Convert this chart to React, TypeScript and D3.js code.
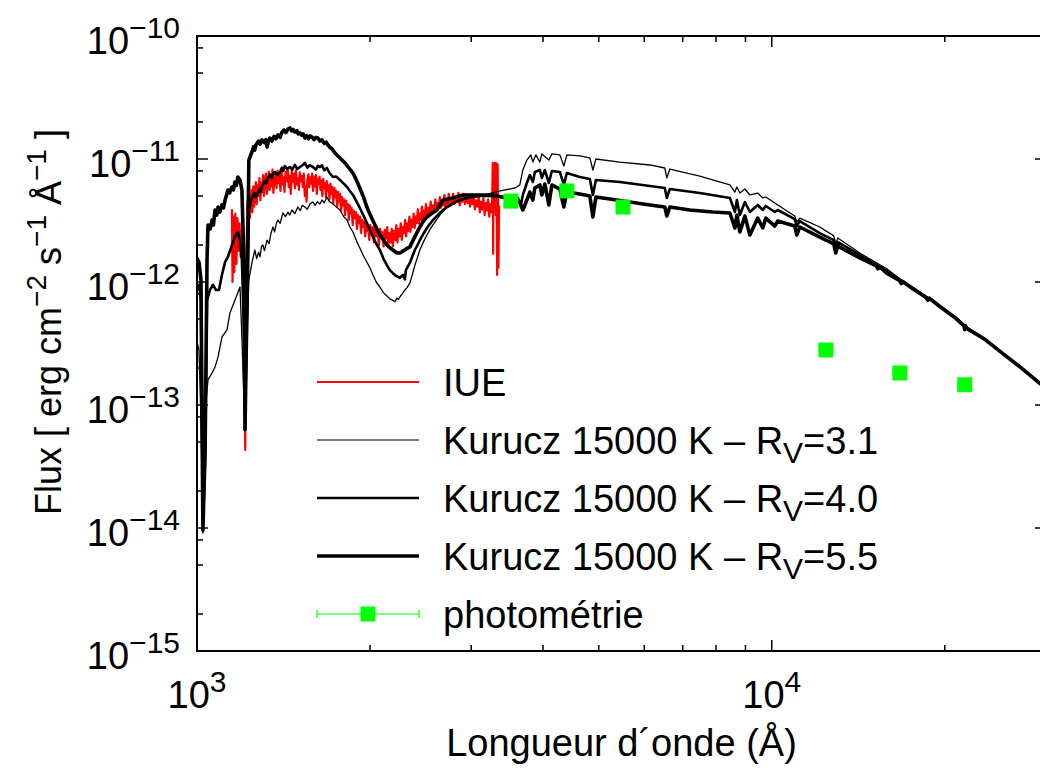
import React from "react";
import * as d3 from "d3";

// Flux values are in units of 1e-12 erg cm^-2 s^-1 Å^-1
const UNIT = 1e-12;

const iue: [number, number][] = [
  [1150, 3.9], [1153, 1.0], [1157, 3.4], [1161, 1.2], [1166, 3.6], [1171, 1.4], [1176, 3.3], [1181, 1.8],
  [1186, 3.0], [1191, 1.6], [1196, 2.6], [1201, 1.7], [1206, 1.2], [1210, 0.2], [1213, 0.043], [1216, 0.3],
  [1220, 1.8], [1224, 4.6], [1228, 3.1], [1232, 5.0], [1236, 3.3], [1240, 4.4], [1244, 5.6], [1248, 3.7],
  [1253, 6.0], [1257, 4.1], [1262, 5.2], [1266, 6.5], [1270, 4.3], [1275, 6.1], [1280, 5.0], [1284, 7.0],
  [1289, 4.6], [1294, 6.4], [1298, 5.4], [1303, 7.4], [1308, 5.0], [1313, 6.8], [1318, 7.6], [1323, 5.2],
  [1328, 6.3], [1333, 7.9], [1338, 5.6], [1343, 7.2], [1348, 6.0], [1353, 8.2], [1358, 5.3], [1364, 7.0],
  [1370, 7.8], [1375, 5.8], [1381, 8.0], [1386, 6.4], [1392, 7.5], [1397, 5.5], [1403, 8.3], [1408, 6.2],
  [1414, 7.1], [1420, 5.4], [1426, 7.9], [1432, 6.6], [1438, 8.4], [1444, 5.9], [1450, 7.3], [1456, 5.2],
  [1462, 8.0], [1468, 6.5], [1474, 7.6], [1480, 5.8], [1486, 8.1], [1492, 6.2], [1498, 7.0], [1504, 5.6],
  [1510, 7.8], [1516, 6.6], [1522, 7.3], [1528, 5.9], [1534, 7.6], [1540, 5.0], [1546, 6.0], [1551, 4.5],
  [1556, 6.8], [1562, 7.5], [1568, 5.9], [1574, 7.1], [1580, 6.3], [1586, 7.6], [1592, 5.5], [1598, 7.2],
  [1604, 6.0], [1610, 7.4], [1616, 5.2], [1622, 6.9], [1628, 6.2], [1634, 7.2], [1640, 5.6], [1646, 6.7],
  [1652, 5.0], [1658, 6.9], [1664, 5.8], [1670, 6.4], [1676, 4.9], [1682, 6.6], [1688, 5.5], [1694, 6.1],
  [1700, 4.7], [1707, 6.3], [1714, 5.2], [1720, 5.9], [1727, 4.4], [1734, 5.8], [1740, 4.9], [1747, 5.5],
  [1754, 4.1], [1760, 5.4], [1767, 4.5], [1774, 5.2], [1781, 3.8], [1788, 4.9], [1795, 4.2], [1802, 4.7],
  [1809, 3.5], [1816, 4.6], [1823, 3.9], [1830, 4.3], [1837, 3.2], [1844, 4.2], [1851, 3.6], [1858, 4.0],
  [1866, 2.9], [1874, 3.8], [1882, 3.3], [1890, 3.7], [1898, 2.7], [1906, 3.5], [1914, 3.0], [1922, 3.4],
  [1930, 2.5], [1938, 3.2], [1946, 2.8], [1954, 3.1], [1962, 2.35], [1970, 3.0], [1978, 2.6], [1986, 2.9],
  [1994, 2.2], [2002, 2.9], [2012, 2.45], [2022, 2.8], [2032, 2.1], [2042, 2.75], [2052, 2.35], [2062, 2.6],
  [2072, 2.0], [2082, 2.7], [2092, 2.3], [2102, 2.55], [2112, 1.95], [2122, 2.65], [2132, 2.25], [2142, 2.8],
  [2152, 2.0], [2162, 2.5], [2172, 2.1], [2182, 2.7], [2192, 1.95], [2202, 2.6], [2212, 2.2], [2222, 2.9],
  [2232, 2.1], [2242, 2.7], [2252, 2.35], [2262, 3.0], [2272, 2.2], [2282, 2.8], [2292, 2.5], [2302, 3.2],
  [2312, 2.35], [2322, 3.0], [2332, 2.6], [2342, 3.4], [2352, 2.55], [2362, 3.2], [2372, 2.8], [2382, 3.6],
  [2392, 2.75], [2402, 3.4], [2412, 3.0], [2422, 3.9], [2432, 3.0], [2442, 3.6], [2452, 3.2], [2462, 4.1],
  [2472, 3.2], [2482, 3.8], [2492, 3.4], [2502, 4.3], [2514, 3.5], [2526, 4.0], [2538, 3.6], [2550, 4.5],
  [2562, 3.7], [2574, 4.2], [2586, 3.8], [2598, 4.7], [2610, 3.9], [2622, 4.4], [2634, 4.0], [2646, 4.9],
  [2658, 4.0], [2670, 4.6], [2682, 4.2], [2694, 5.1], [2706, 4.1], [2718, 4.7], [2730, 4.3], [2742, 5.2],
  [2754, 4.2], [2766, 4.8], [2778, 4.4], [2790, 5.2], [2805, 4.3], [2820, 4.9], [2835, 4.5], [2850, 5.3],
  [2865, 4.2], [2880, 4.8], [2895, 4.5], [2910, 5.2], [2925, 4.3], [2940, 4.9], [2955, 4.4], [2970, 5.1],
  [2985, 4.1], [3000, 4.7], [3015, 4.3], [3030, 5.0], [3045, 3.9], [3060, 4.6], [3075, 4.1], [3090, 4.9],
  [3105, 3.7], [3120, 4.5], [3135, 3.9], [3150, 4.8], [3165, 3.5], [3180, 4.4], [3195, 3.8], [3210, 4.7],
  [3225, 3.4], [3240, 4.3], [3252, 3.7], [3262, 4.5], [3270, 9.3], [3275, 1.7], [3282, 8.9], [3290, 4.0],
  [3300, 9.3], [3310, 3.5], [3320, 9.2], [3328, 1.14], [3335, 9.0], [3345, 1.3], [3355, 4.2],
];

const kurucz31: [number, number][] = [
  [1000, 0.325], [1008, 0.28], [1016, 0.0755], [1024, 0.0091], [1033, 0.0246], [1037, 0.11], [1045, 0.16],
  [1062, 0.182], [1075, 0.204], [1088, 0.246], [1105, 0.357], [1128, 0.41], [1141, 0.56], [1164, 0.71],
  [1188, 0.91], [1197, 0.357], [1207, 0.11], [1212, 0.11], [1222, 0.41], [1231, 1.04], [1246, 1.43],
  [1261, 1.82], [1270, 1.55], [1280, 1.75], [1287, 1.6], [1295, 1.95], [1302, 2.0], [1310, 1.8],
  [1324, 2.19], [1335, 2.05], [1345, 2.5], [1356, 2.8], [1365, 2.55], [1374, 3.0], [1383, 3.19],
  [1395, 3.0], [1411, 3.64], [1425, 3.4], [1440, 3.7], [1450, 3.5], [1463, 3.85], [1480, 3.6],
  [1498, 4.07], [1512, 3.8], [1525, 4.2], [1541, 4.07], [1556, 3.9], [1572, 4.3], [1591, 4.47],
  [1605, 4.2], [1620, 4.5], [1635, 4.3], [1650, 4.64], [1665, 4.4], [1683, 4.91], [1700, 4.5],
  [1717, 4.39], [1745, 4.1], [1773, 3.85], [1800, 3.4], [1824, 3.19], [1845, 2.8], [1868, 2.55],
  [1895, 2.15], [1920, 1.89], [1950, 1.62], [1975, 1.45], [2000, 1.3], [2024, 1.14], [2050, 1.0],
  [2081, 0.91], [2110, 0.82], [2140, 0.77], [2165, 0.73], [2192, 0.71], [2210, 0.69], [2227, 0.74],
  [2240, 0.72], [2254, 0.755], [2275, 0.8], [2300, 0.86], [2320, 0.9], [2346, 0.98], [2370, 1.15],
  [2394, 1.37], [2420, 1.6], [2442, 1.82], [2475, 2.1], [2512, 2.41], [2540, 2.65], [2573, 2.91],
  [2610, 3.2], [2646, 3.5], [2680, 3.75], [2721, 4.0], [2809, 4.39], [2924, 4.73], [3044, 4.91],
  [3168, 5.1], [3297, 5.39], [3433, 5.6], [3573, 5.81], [3645, 6.15], [3689, 8.14], [3749, 9.81],
  [3809, 10.8], [3840, 9.45], [3886, 10.8], [3949, 9.45], [3981, 11.0], [4094, 9.81], [4144, 11.0],
  [4279, 10.8], [4348, 8.77], [4400, 10.8], [4635, 10.6], [4825, 10.2], [4884, 8.14], [4943, 10.0],
  [5442, 9.45], [6138, 8.94], [6515, 8.45], [6568, 7.01], [6647, 8.29], [7495, 7.27], [8456, 6.15],
  [8627, 5.39], [8696, 5.92], [8801, 5.29], [8979, 5.7], [9160, 5.1], [9454, 5.29], [9646, 4.82],
  [9763, 4.91], [10121, 4.39], [10243, 4.23], [10965, 3.44], [11053, 3.07], [11187, 3.31], [12119, 2.8],
  [12819, 2.37], [12922, 2.04], [13026, 2.28], [14224, 1.72], [15849, 1.28], [16697, 1.06],
  [17593, 0.91], [18527, 0.77], [19600, 0.645], [20813, 0.525], [21834, 0.43], [23470, 0.347],
  [25630, 0.25], [26999, 0.207], [29257, 0.152], [30000, 0.139],
];

const kurucz40: [number, number][] = [
  [1000, 0.86], [1008, 0.95], [1016, 0.71], [1024, 0.0116], [1033, 0.0357], [1041, 0.71], [1053, 0.86],
  [1066, 0.95], [1079, 0.86], [1092, 0.86], [1105, 1.14], [1119, 1.45], [1132, 1.6], [1150, 2.0],
  [1164, 2.32], [1178, 2.55], [1188, 2.19], [1197, 1.51], [1207, 0.41], [1212, 0.0755], [1222, 0.49],
  [1231, 3.85], [1246, 4.82], [1258, 5.3], [1265, 4.9], [1272, 5.1], [1285, 5.7], [1290, 5.4],
  [1297, 5.92], [1310, 6.6], [1318, 6.3], [1329, 7.01], [1340, 7.5], [1350, 7.0], [1358, 7.7],
  [1367, 7.84], [1380, 7.4], [1394, 7.84], [1405, 8.5], [1412, 8.0], [1422, 8.77], [1435, 8.3],
  [1451, 8.61], [1465, 8.2], [1480, 8.94], [1495, 8.3], [1510, 8.61], [1525, 8.9], [1541, 9.28],
  [1556, 8.5], [1570, 8.9], [1591, 8.61], [1610, 8.2], [1622, 8.8], [1636, 8.61], [1650, 8.9],
  [1665, 8.1], [1683, 8.45], [1700, 7.7], [1724, 7.14], [1745, 7.2], [1773, 6.75], [1800, 6.3],
  [1824, 5.92], [1845, 5.5], [1868, 5.1], [1895, 4.5], [1920, 4.0], [1950, 3.45], [1975, 3.02],
  [2000, 2.65], [2024, 2.32], [2050, 2.05], [2081, 1.82], [2110, 1.55], [2140, 1.37], [2165, 1.25],
  [2192, 1.18], [2220, 1.12], [2254, 1.08], [2281, 1.14], [2300, 1.05], [2309, 1.25], [2346, 1.43],
  [2370, 1.62], [2394, 1.82], [2420, 2.0], [2442, 2.19], [2475, 2.45], [2512, 2.75], [2540, 2.95],
  [2573, 3.19], [2610, 3.42], [2646, 3.64], [2680, 3.85], [2721, 4.07], [2790, 4.35], [2866, 4.64],
  [2983, 4.91], [3105, 5.0], [3232, 5.0], [3364, 4.91], [3502, 4.82], [3616, 4.82], [3660, 4.23],
  [3689, 5.1], [3749, 6.38], [3794, 7.41], [3840, 6.5], [3871, 7.84], [3949, 8.14], [3981, 7.01],
  [4029, 8.14], [4094, 6.38], [4144, 7.99], [4279, 7.84], [4348, 6.15], [4400, 7.69], [4635, 7.14],
  [4825, 6.88], [4884, 5.1], [4943, 6.75], [5442, 6.5], [6138, 6.03], [6515, 5.81], [6568, 4.82],
  [6647, 5.7], [7495, 5.29], [8456, 4.82], [8627, 3.71], [8696, 4.64], [8801, 3.5], [8979, 4.47],
  [9160, 3.71], [9454, 4.23], [9646, 3.85], [9763, 4.15], [10121, 3.71], [10243, 3.85], [10965, 3.25],
  [11053, 2.85], [11187, 3.13], [12119, 2.5], [12819, 2.19], [12922, 1.82], [13026, 2.11],
  [14224, 1.66], [15849, 1.23], [16697, 1.045], [17593, 0.89], [18527, 0.76], [19600, 0.638],
  [20813, 0.52], [21834, 0.425], [23470, 0.344], [25630, 0.248], [26999, 0.206], [29257, 0.151],
  [30000, 0.138],
];

const kurucz55: [number, number][] = [
  [1000, 1.57], [1008, 1.45], [1016, 1.04], [1024, 0.0096], [1033, 0.043], [1041, 1.51], [1045, 2.91],
  [1054, 2.7], [1062, 3.19], [1068, 2.9], [1075, 3.85], [1082, 3.5], [1088, 4.07], [1096, 3.7],
  [1105, 4.23], [1112, 4.0], [1119, 4.64], [1132, 5.6], [1140, 5.3], [1150, 5.92], [1157, 5.6],
  [1164, 6.5], [1171, 6.1], [1178, 7.14], [1188, 6.75], [1197, 5.6], [1207, 1.51], [1212, 0.063],
  [1222, 0.71], [1231, 9.81], [1246, 11.4], [1255, 12.6], [1260, 11.8], [1266, 13.0], [1280, 14.0],
  [1288, 13.2], [1297, 14.3], [1310, 13.6], [1318, 14.4], [1324, 12.5], [1331, 13.9], [1339, 14.8],
  [1350, 14.0], [1362, 15.3], [1372, 14.6], [1383, 15.7], [1395, 15.0], [1405, 16.5], [1417, 17.2],
  [1428, 16.4], [1440, 17.5], [1451, 17.9], [1462, 16.9], [1470, 17.4], [1480, 16.6], [1492, 17.0],
  [1500, 16.0], [1510, 16.3], [1522, 15.6], [1530, 16.0], [1541, 14.8], [1552, 15.5], [1562, 14.6],
  [1574, 15.4], [1585, 15.1], [1598, 14.4], [1610, 15.0], [1623, 14.8], [1636, 14.0], [1650, 14.3],
  [1665, 13.4], [1678, 13.7], [1690, 13.0], [1705, 12.4], [1720, 12.0], [1738, 11.2], [1770, 10.3],
  [1809, 9.28], [1840, 8.4], [1868, 7.69], [1895, 6.7], [1920, 5.81], [1950, 4.85], [1975, 4.07],
  [2005, 3.45], [2040, 2.91], [2081, 2.41], [2110, 2.2], [2140, 2.0], [2165, 1.9], [2192, 1.82],
  [2227, 1.72], [2254, 1.72], [2280, 1.78], [2300, 1.82], [2320, 1.88], [2346, 1.93], [2395, 2.35],
  [2442, 2.8], [2475, 3.1], [2512, 3.38], [2560, 3.6], [2615, 3.85], [2678, 4.64], [2787, 4.82],
  [2900, 5.1], [3105, 5.1], [3271, 5.1], [3460, 4.82], [3573, 4.64], [3645, 4.39], [3689, 3.85],
  [3749, 4.64], [3794, 5.39], [3840, 4.64], [3871, 5.81], [3949, 6.15], [3981, 5.1], [4029, 6.26],
  [4094, 4.23], [4144, 6.15], [4279, 5.7], [4348, 4.07], [4400, 5.39], [4635, 5.19], [4825, 5.0],
  [4884, 3.38], [4943, 4.91], [5228, 4.73], [5664, 4.47], [6138, 4.23], [6515, 4.07], [6568, 3.44],
  [6647, 4.07], [7201, 3.85], [7897, 3.71], [8456, 3.64], [8627, 2.75], [8696, 3.5], [8801, 2.55],
  [8979, 3.44], [9160, 2.41], [9454, 3.31], [9646, 2.75], [9763, 3.31], [10121, 2.85], [10243, 3.13],
  [10965, 2.85], [11053, 2.41], [11187, 2.8], [12119, 2.32], [12819, 2.04], [12922, 1.72], [13026, 1.96],
  [14224, 1.57], [15200, 1.35], [15300, 1.28], [15400, 1.33], [15849, 1.18], [16697, 1.025],
  [16800, 0.97], [16900, 1.01], [17593, 0.88], [18527, 0.75], [18700, 0.71], [18800, 0.74],
  [19600, 0.632], [20813, 0.515], [21600, 0.44], [21660, 0.41], [21720, 0.44], [21834, 0.42],
  [23470, 0.342], [25630, 0.247], [26999, 0.205], [29257, 0.15], [30000, 0.137],
];

const photometry: [number, number][] = [
  [3516, 4.55], [4400, 5.5], [5510, 4.07], [12420, 0.28], [16700, 0.182], [21660, 0.146],
];

const xMajorExps = [3, 4];
const yMajorExps = [-10, -11, -12, -13, -14, -15];
const xMinorMult = [2, 3, 4, 5, 6, 7, 8, 9];
const yMinorMult = [2, 5, 8];

const FONT = "'Liberation Sans', Arial, Helvetica, sans-serif";
const FS = 38;
const SUP = 30;
const TITLE_FS = 36;
const TITLE_SUP = 28;

const L = 197, R = 1046, T = 36, B = 651;

export default function App() {
  const x = d3.scaleLog().domain([1000, 30000]).range([L, R]);
  const y = d3.scaleLog().domain([1e-15, 1e-10]).range([B, T]);
  const line = d3
    .line<[number, number]>()
    .x((d) => x(d[0]))
    .y((d) => y(d[1] * UNIT));

  const xMinor: number[] = [];
  [1000, 10000].forEach((dec) =>
    xMinorMult.forEach((m) => {
      const v = dec * m;
      if (v <= 30000) xMinor.push(v);
    })
  );
  const yMinor: number[] = [];
  [1e-15, 1e-14, 1e-13, 1e-12, 1e-11].forEach((dec) =>
    yMinorMult.forEach((m) => yMinor.push(dec * m))
  );

  const major = 11, minor = 6;

  const legendY = [382, 440, 498, 556, 614];
  const lx1 = 317, lx2 = 419, tx = 443;
  const models = [
    { label: "3.1", w: 1.2 },
    { label: "4.0", w: 2.5 },
    { label: "5.5", w: 3.5 },
  ];

  return (
    <svg
      width={1040}
      height={771}
      style={{ position: "absolute", left: 0, top: 0, background: "#fff" }}
      fontFamily={FONT}
    >
      <rect x={0} y={0} width={1040} height={771} fill="#fff" />
      <defs>
        <clipPath id="plotclip">
          <rect x={L} y={T} width={R - L} height={B - T} />
        </clipPath>
      </defs>

      <g clipPath="url(#plotclip)" fill="none" strokeLinejoin="round">
        <path d={line(iue) || ""} stroke="#ff0000" strokeWidth={2.2} />
        <path d={line(kurucz31) || ""} stroke="#000" strokeWidth={1.3} />
        <path d={line(kurucz40) || ""} stroke="#000" strokeWidth={2.6} />
        <path d={line(kurucz55) || ""} stroke="#000" strokeWidth={3.6} />
        {photometry.map((d, i) => (
          <rect
            key={i}
            x={x(d[0]) - 7.5}
            y={y(d[1] * UNIT) - 7.5}
            width={15}
            height={15}
            fill="#00ff00"
          />
        ))}
      </g>

      {/* ticks */}
      <g stroke="#000" strokeWidth={1.5}>
        {xMajorExps.map((e) => {
          const px = x(Math.pow(10, e));
          return (
            <g key={"xM" + e}>
              <line x1={px} x2={px} y1={B} y2={B - major} />
              <line x1={px} x2={px} y1={T} y2={T + major} />
            </g>
          );
        })}
        {xMinor.map((v) => {
          const px = x(v);
          return (
            <g key={"xm" + v}>
              <line x1={px} x2={px} y1={B} y2={B - minor} />
              <line x1={px} x2={px} y1={T} y2={T + minor} />
            </g>
          );
        })}
        {yMajorExps.map((e) => {
          const py = y(Math.pow(10, e));
          return (
            <g key={"yM" + e}>
              <line x1={L} x2={L + major} y1={py} y2={py} />
              <line x1={R} x2={R - major} y1={py} y2={py} />
            </g>
          );
        })}
        {yMinor.map((v, i) => {
          const py = y(v);
          return (
            <g key={"ym" + i}>
              <line x1={L} x2={L + minor} y1={py} y2={py} />
              <line x1={R} x2={R - minor} y1={py} y2={py} />
            </g>
          );
        })}
      </g>

      {/* frame */}
      <rect x={L} y={T} width={R - L} height={B - T} fill="none" stroke="#000" strokeWidth={2} />

      {/* y tick labels */}
      {yMajorExps.map((e) => (
        <text key={"yl" + e} x={180} y={y(Math.pow(10, e)) + 18} fontSize={FS} textAnchor="end">
          10
          <tspan dy={-16} fontSize={SUP}>
            {"\u2212" + Math.abs(e)}
          </tspan>
        </text>
      ))}

      {/* x tick labels */}
      {xMajorExps.map((e) => (
        <text key={"xl" + e} x={x(Math.pow(10, e))} y={708} fontSize={FS} textAnchor="middle">
          10
          <tspan dy={-16} fontSize={SUP}>
            {String(e)}
          </tspan>
        </text>
      ))}

      {/* axis titles */}
      <text x={(L + R) / 2} y={756} fontSize={FS} textAnchor="middle">
        Longueur d´onde (Å)
      </text>
      <text transform="translate(61,322) rotate(-90)" fontSize={TITLE_FS} textAnchor="middle">
        Flux [ erg cm
        <tspan dy={-15} fontSize={TITLE_SUP}>{"\u22122"}</tspan>
        <tspan dy={15}> s</tspan>
        <tspan dy={-15} fontSize={TITLE_SUP}>{"\u22121"}</tspan>
        <tspan dy={15}> Å</tspan>
        <tspan dy={-15} fontSize={TITLE_SUP}>{"\u22121"}</tspan>
        <tspan dy={15}> ]</tspan>
      </text>

      {/* legend */}
      <g>
        <line x1={lx1} x2={lx2} y1={legendY[0]} y2={legendY[0]} stroke="#ff0000" strokeWidth={2} />
        <text x={tx} y={legendY[0] + 14} fontSize={FS}>IUE</text>
        {models.map((m, i) => (
          <g key={m.label}>
            <line
              x1={lx1}
              x2={lx2}
              y1={legendY[i + 1]}
              y2={legendY[i + 1]}
              stroke="#000"
              strokeWidth={m.w}
            />
            <text x={tx} y={legendY[i + 1] + 14} fontSize={FS}>
              Kurucz 15000 K – R
              <tspan dy={9} fontSize={SUP}>V</tspan>
              <tspan dy={-9}>{"=" + m.label}</tspan>
            </text>
          </g>
        ))}
        <g stroke="#00ff00" strokeWidth={1.2}>
          <line x1={lx1} x2={lx2} y1={legendY[4]} y2={legendY[4]} />
          <line x1={lx1} x2={lx1} y1={legendY[4] - 4} y2={legendY[4] + 4} />
          <line x1={lx2} x2={lx2} y1={legendY[4] - 4} y2={legendY[4] + 4} />
        </g>
        <rect x={(lx1 + lx2) / 2 - 7.5} y={legendY[4] - 7.5} width={15} height={15} fill="#00ff00" />
        <text x={tx} y={legendY[4] + 14} fontSize={FS}>photométrie</text>
      </g>
    </svg>
  );
}
